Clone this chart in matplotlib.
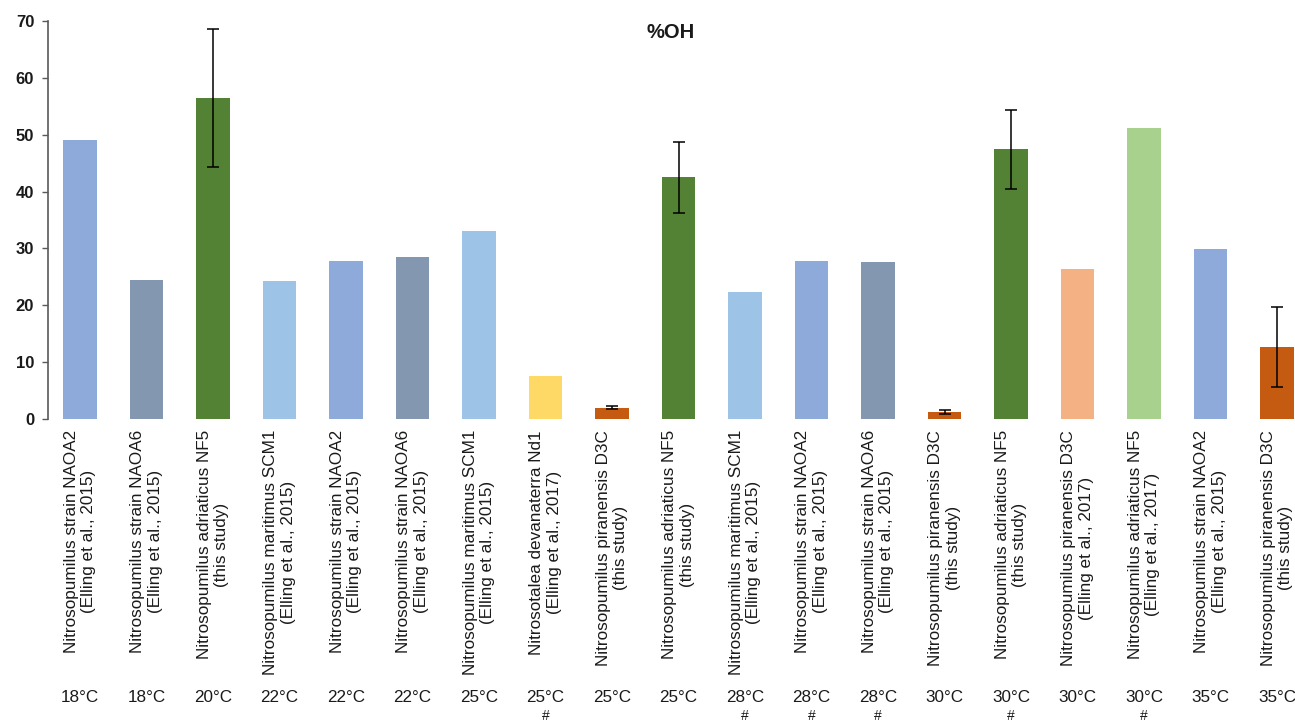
import matplotlib.pyplot as plt
import matplotlib.transforms as mtransforms

plt.rcParams['font.family'] = ['Liberation Sans', 'DejaVu Sans']

# strain / source labels (two lines each)
labels = [
    "Nitrosopumilus strain NAOA2\n(Elling et al., 2015)",
    "Nitrosopumilus strain NAOA6\n(Elling et al., 2015)",
    "Nitrosopumilus adriaticus NF5\n(this study)",
    "Nitrosopumilus maritimus SCM1\n(Elling et al., 2015)",
    "Nitrosopumilus strain NAOA2\n(Elling et al., 2015)",
    "Nitrosopumilus strain NAOA6\n(Elling et al., 2015)",
    "Nitrosopumilus maritimus SCM1\n(Elling et al., 2015)",
    "Nitrosotalea devanaterra Nd1\n(Elling et al., 2017)",
    "Nitrosopumilus piranensis D3C\n(this study)",
    "Nitrosopumilus adriaticus NF5\n(this study)",
    "Nitrosopumilus maritimus SCM1\n(Elling et al., 2015)",
    "Nitrosopumilus strain NAOA2\n(Elling et al., 2015)",
    "Nitrosopumilus strain NAOA6\n(Elling et al., 2015)",
    "Nitrosopumilus piranensis D3C\n(this study)",
    "Nitrosopumilus adriaticus NF5\n(this study)",
    "Nitrosopumilus piranensis D3C\n(Elling et al., 2017)",
    "Nitrosopumilus adriaticus NF5\n(Elling et al., 2017)",
    "Nitrosopumilus strain NAOA2\n(Elling et al., 2015)",
    "Nitrosopumilus piranensis D3C\n(this study)",
]
temps = ["18°C", "18°C", "20°C", "22°C", "22°C", "22°C", "25°C", "25°C", "25°C", "25°C",
         "28°C", "28°C", "28°C", "30°C", "30°C", "30°C", "30°C", "35°C", "35°C"]
hashed = [False, False, False, False, False, False, False, True, False, False,
          True, True, True, False, True, False, True, False, False]

oh_values = [49.1, 24.5, 56.4, 24.2, 27.8, 28.4, 33.0, 7.6, 2.0, 42.5,
             22.3, 27.8, 27.6, 1.2, 47.4, 26.4, 51.2, 29.9, 12.7]
oh_errors = [0, 0, 12.1, 0, 0, 0, 0, 0, 0.3, 6.3,
             0, 0, 0, 0.3, 6.9, 0, 0, 0, 7.0]

# colour per strain/source
strain_colors = {
    "NAOA2": "#8eaadb",
    "NAOA6": "#8497b0",
    "NF5 this": "#548235",
    "SCM1": "#9dc3e6",
    "Nd1": "#ffd966",
    "D3C this": "#c55a11",
    "D3C Elling": "#f4b183",
    "NF5 Elling": "#a9d18e",
}
bar_keys = ["NAOA2", "NAOA6", "NF5 this", "SCM1", "NAOA2", "NAOA6", "SCM1", "Nd1", "D3C this",
            "NF5 this", "SCM1", "NAOA2", "NAOA6", "D3C this", "NF5 this", "D3C Elling",
            "NF5 Elling", "NAOA2", "D3C this"]

fig = plt.figure(figsize=(12.95, 7.23), dpi=100)
ax = fig.add_axes([0.0371, 0.4205, 0.9629, 0.5505])

x = list(range(len(oh_values)))
cols = [strain_colors[k] for k in bar_keys]
ax.bar(x, oh_values, width=0.51, color=cols, zorder=2)

# error bars only where there is one
for xi, v, e in zip(x, oh_values, oh_errors):
    if e > 0:
        ax.errorbar(xi, v, yerr=e, fmt='none', ecolor='black', elinewidth=1.1,
                    capsize=4, capthick=1.1, zorder=3)

ax.set_xlim(-0.48, 18.27)
ax.set_ylim(0, 70)
ax.set_yticks(range(0, 71, 10))
ax.tick_params(axis='y', length=4, width=1, color='#595959', labelsize=12, pad=6)
for t in ax.get_yticklabels():
    t.set_fontweight('bold')
    t.set_color('#1a1a1a')

ax.set_xticks(x)
ax.set_xticklabels(labels, rotation=90, fontsize=12.3, ha='center', va='top',
                   multialignment='center', color='#1a1a1a')
ax.tick_params(axis='x', length=0, pad=8)

for s in ['top', 'right', 'bottom']:
    ax.spines[s].set_visible(False)
ax.spines['left'].set_color('#595959')
ax.spines['left'].set_linewidth(1.2)

ax.text(0.4996, 0.972, "%OH", transform=ax.transAxes, fontsize=14.5, fontweight='bold',
        ha='center', va='center', color='#1a1a1a')

# temperature row underneath
trans = mtransforms.blended_transform_factory(ax.transData, fig.transFigure)
for xi, t, h in zip(x, temps, hashed):
    ax.text(xi, 1 - 698 / 723, t, transform=trans, ha='center', va='center',
            fontsize=12.3, color='#1a1a1a')
    if h:
        ax.text(xi, 1 - 716 / 723, "#", transform=trans, ha='center', va='center',
                fontsize=10, color='#1a1a1a')

fig.savefig("out.png", dpi=100)
